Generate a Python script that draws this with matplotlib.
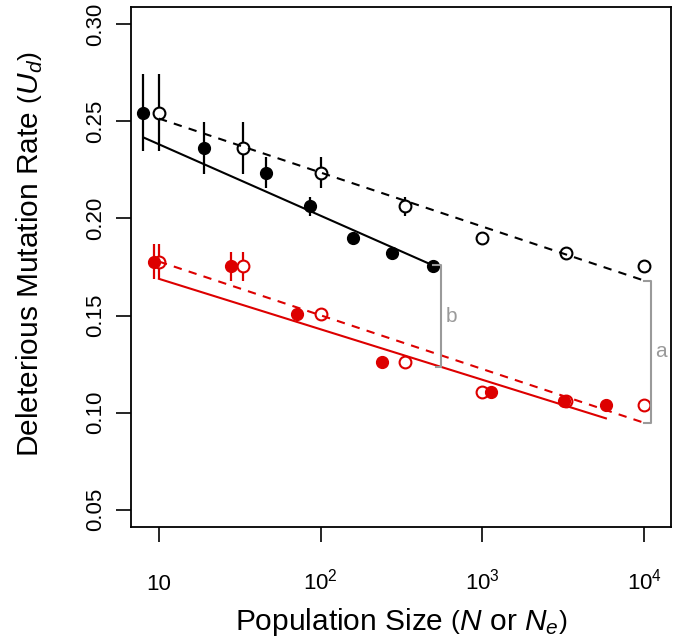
import numpy as np
import matplotlib.pyplot as plt

plt.rcParams['font.family'] = ['Liberation Sans', 'DejaVu Sans']
plt.rcParams['mathtext.fontset'] = 'custom'
plt.rcParams['mathtext.rm'] = 'Liberation Sans'
plt.rcParams['mathtext.it'] = 'Liberation Sans:italic'

# black: filled = census size N, open = effective size Ne
black_n = [8, 19, 46, 86, 158, 276, 496]
black_ne = [10, 33, 100, 330, 1000, 3300, 10000]
black_ud = [0.2546, 0.2362, 0.2237, 0.2062, 0.1900, 0.1822, 0.1756]
black_err = [0.0198, 0.0134, 0.0080, 0.0050, 0.0030, 0.0015, 0.0010]

# red: filled = N, open = Ne
red_n = [9.3, 28, 71, 240, 1130, 3200, 5800]
red_ne = [10, 33, 100, 330, 1000, 3300, 10000]
red_ud = [0.1778, 0.1753, 0.1510, 0.1258, 0.1108, 0.1057, 0.1041]
red_err = [0.0090, 0.0075, 0.0030, 0.0015, 0.0010, 0.0010, 0.0010]

# fitted lines (x ends, y ends)
black_fit_n_x = [8, 496]
black_fit_n_y = [0.2418, 0.1758]
black_fit_ne_x = [10, 10000]
black_fit_ne_y = [0.2515, 0.1680]
red_fit_n_x = [10, 5800]
red_fit_n_y = [0.1689, 0.0970]
red_fit_ne_x = [10, 10000]
red_fit_ne_y = [0.1778, 0.0947]

# brackets a and b
bracket_a_x = [10000, 11000]
bracket_a_y = [0.1680, 0.0947]
bracket_b_x = [496, 555]
bracket_b_y = [0.1758, 0.1236]

xticks = [10, 100, 1000, 10000]
xticklabels = ['10', r'$10^2$', r'$10^3$', r'$10^4$']
yticks = [0.05, 0.10, 0.15, 0.20, 0.25, 0.30]
yticklabels = ['0.05', '0.10', '0.15', '0.20', '0.25', '0.30']

red = '#DD0000'
grey = '#9A9A9A'

fig = plt.figure(figsize=(6.78, 6.44), dpi=100)
ax = fig.add_axes([131 / 678, 1 - 527 / 644, 540 / 678, 520 / 644])
ax.set_xscale('log')

for n, ne, ud, err, col in [(black_n, black_ne, black_ud, black_err, 'black'),
                            (red_n, red_ne, red_ud, red_err, red)]:
    ax.errorbar(ne, ud, yerr=err, fmt='none', ecolor=col, elinewidth=1.6, capsize=0, zorder=1)
    ax.errorbar(n, ud, yerr=err, fmt='none', ecolor=col, elinewidth=1.6, capsize=0, zorder=1)
    ax.plot(ne, ud, 'o', ms=8.5, mfc='white', mec=col, mew=1.5, ls='none', zorder=2)
    ax.plot(n, ud, 'o', ms=8.5, mfc=col, mec=col, ls='none', zorder=3)

ax.plot(black_fit_n_x, black_fit_n_y, color='black', lw=1.5, zorder=4)
ax.plot(black_fit_ne_x, black_fit_ne_y, color='black', lw=1.5, ls=(0, (4, 3.5)), zorder=4)
ax.plot(red_fit_n_x, red_fit_n_y, color=red, lw=1.5, zorder=4)
ax.plot(red_fit_ne_x, red_fit_ne_y, color=red, lw=1.5, ls=(0, (4, 3.5)), zorder=4)

# bracket a
ax.plot([bracket_a_x[0], bracket_a_x[1], bracket_a_x[1], bracket_a_x[0]],
        [bracket_a_y[0], bracket_a_y[0], bracket_a_y[1], bracket_a_y[1]],
        color=grey, lw=1.5, zorder=4)
ax.text(12700, np.mean(bracket_a_y), 'a', color=grey, fontsize=15, ha='center', va='center')
# bracket b
ax.plot([bracket_b_x[0], bracket_b_x[1], bracket_b_x[1], 516],
        [bracket_b_y[0], bracket_b_y[0], bracket_b_y[1], bracket_b_y[1]],
        color=grey, lw=1.5, zorder=4)
ax.text(645, np.mean(bracket_b_y), 'b', color=grey, fontsize=15, ha='center', va='center')

ax.set_xlim(10 ** 0.827, 10 ** 4.166)
ax.set_ylim(0.041, 0.309)

ax.set_xticks(xticks)
ax.set_xticklabels(xticklabels)
ax.minorticks_off()
ax.set_yticks(yticks)
ax.set_yticklabels(yticklabels, rotation=90, va='center')
ax.tick_params(axis='both', direction='out', length=11, width=1.2, labelsize=16)
ax.tick_params(axis='x', pad=34)
ax.tick_params(axis='y', pad=7)
for lab in ax.get_xticklabels():
    lab.set_va('baseline')
for s in ax.spines.values():
    s.set_linewidth(1.3)

ax.set_xlabel(r'Population Size $\left(N\ \mathrm{or}\ N_e\right)$', fontsize=21.5, labelpad=8)
ax.set_ylabel(r'Deleterious Mutation Rate $\left(U_d\right)$', fontsize=21.5)
ax.yaxis.set_label_coords(-0.16, 0.525)

plt.savefig('out.png', dpi=100)
